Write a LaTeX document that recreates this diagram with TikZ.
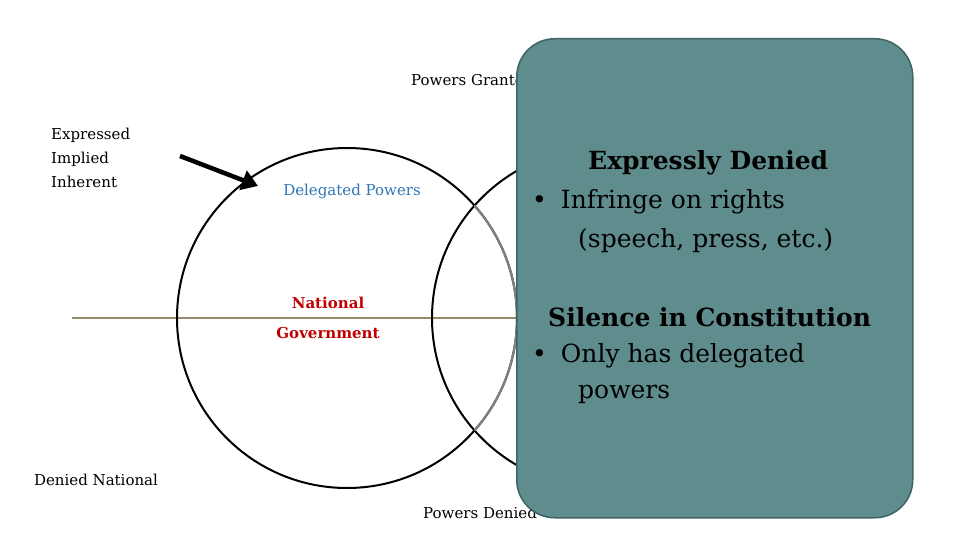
\documentclass[tikz,border=0pt]{standalone}
\usepackage{fontspec}
\setmainfont{DejaVu Serif}
\usetikzlibrary{positioning,arrows.meta}
\definecolor{boxteal}{HTML}{5F8C8C}
\definecolor{boxedge}{HTML}{3F6464}
\definecolor{linetan}{HTML}{948A6E}
\definecolor{delblue}{HTML}{2E75B6}
\definecolor{natred}{HTML}{C00000}
\tikzset{lbl/.style={font=\fontsize{15}{24}\selectfont, align=left, inner sep=0pt},
  boxtxt/.style={font=\fontsize{25}{29}\selectfont, align=left, inner sep=0pt, anchor=west}}
\begin{document}
\begin{tikzpicture}[x=1pt,y=-1pt]
\useasboundingbox (0,0) rectangle (960,540);
% axis line
\coordinate (lstart) at (72,318);
\coordinate (lend) at (520,318);
\draw [linetan, line width=2pt] (lstart) -- (lend);
% circles
\draw [line width=2pt] (347,318) circle (170);
\draw [line width=2pt] (602,318) circle (170);
\begin{scope}
\clip (602,318) circle (170);
\draw [gray, line width=2.2pt] (347,318) circle (170);
\end{scope}
% labels
\node (granted) [lbl, anchor=west] at (411,80) {Powers Granted};
\node (denied) [lbl] at (480,513) {Powers Denied};
\node (kinds) [lbl, anchor=north west] at (51,128) {Expressed\\Implied\\Inherent};
\node (delegated) [lbl, text=delblue] at (352,191) {Delegated Powers};
\node (national) [lbl, text=natred, font=\fontsize{15}{30}\selectfont\bfseries, align=center] at (328,318) {National\\Government};
\node (deniednat) [lbl] at (96,480) {Denied National};
\coordinate (tail) at (180,156);
\coordinate (tip) at (258,186);
\draw [line width=4.5pt, -{Triangle[length=16pt,width=20pt]}] (tail) -- (tip);
% overlay box
\node (panel) [draw=boxedge, line width=1.5pt, fill=boxteal, rounded corners=38pt, minimum width=396pt, minimum height=479pt, anchor=north west] at (516,38) {};
\node (exp) [boxtxt, font=\fontsize{25}{29}\selectfont\bfseries] at (588,163) {Expressly Denied};
\node (b1) [boxtxt] at (532,202) {\textbullet\hspace{14pt}Infringe on rights};
\node (b1b) [boxtxt] at (578,241) {(speech, press, etc.)};
\node (sil) [boxtxt, font=\fontsize{25}{29}\selectfont\bfseries] at (548,317) {Silence in Constitution};
\node (b2) [boxtxt] at (532,356) {\textbullet\hspace{14pt}Only has delegated};
\node (b2b) [boxtxt] at (578,394) {powers};
\end{tikzpicture}
\end{document}
